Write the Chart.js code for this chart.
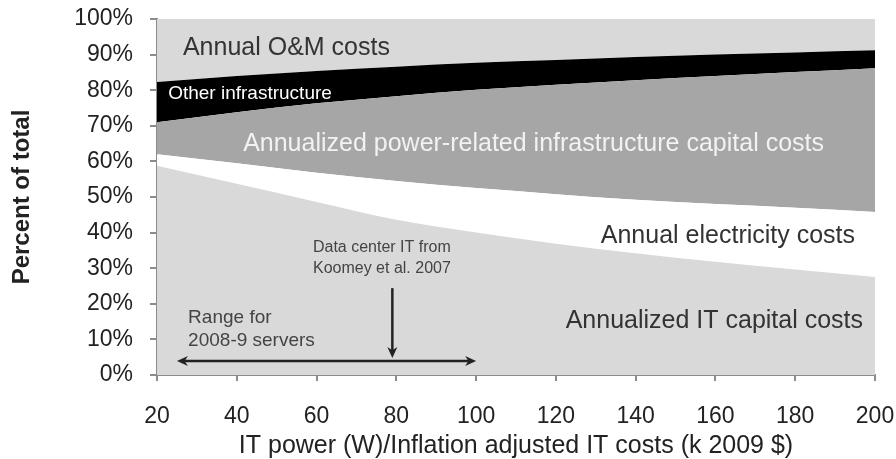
<!DOCTYPE html>
<html>
<head>
<meta charset="utf-8">
<script src="https://cdn.jsdelivr.net/npm/chart.js@4"></script>
<style>
  html, body { margin: 0; padding: 0; background: #fff; }
  #wrap { width: 896px; height: 459px; }
</style>
</head>
<body>
<div id="wrap"><canvas id="myChart" width="896" height="459"></canvas></div>
<script>
// x values (IT power W / inflation adjusted IT costs, k 2009 $)
const xValues = [20, 40, 60, 80, 100, 120, 140, 160, 180, 200];

// upper edge of each band, cumulative percent of total
const itCapitalTop   = [58.8, 53.7, 48.6, 43.6, 40.0, 36.9, 34.2, 31.8, 29.6, 27.5];
const electricityTop = [62.0, 59.5, 56.8, 54.5, 52.5, 50.8, 49.2, 48.0, 47.0, 45.8];
const powerInfraTop  = [71.0, 73.8, 76.3, 78.3, 80.1, 81.5, 82.8, 84.0, 85.1, 86.2];
const otherInfraTop  = [82.3, 84.0, 85.4, 86.6, 87.7, 88.5, 89.3, 90.0, 90.6, 91.2];
const omTop          = [100, 100, 100, 100, 100, 100, 100, 100, 100, 100];

const yTicks = [0, 10, 20, 30, 40, 50, 60, 70, 80, 90, 100];
const xTicks = [20, 40, 60, 80, 100, 120, 140, 160, 180, 200];

// markers in the picture
const serverRange = [25, 100];   // 2008-9 servers
const koomeyPoint = 79;          // Koomey et al. 2007

function toPoints(arr) {
    return arr.map((v, i) => ({ x: xValues[i], y: v }));
}

function band(label, arr, color, fill) {
    return {
        label: label,
        data: toPoints(arr),
        backgroundColor: color,
        borderWidth: 0,
        pointRadius: 0,
        fill: fill,
        cubicInterpolationMode: "monotone"
    };
}

const FONT = "'Liberation Sans', Arial, sans-serif";

function arrowHead(ctx, x, y, dx, dy) {
    // tip at (x,y), pointing in direction (dx,dy)
    const len = 11, half = 5;
    const px = -dy, py = dx;
    ctx.beginPath();
    ctx.moveTo(x, y);
    ctx.lineTo(x - dx * len + px * half, y - dy * len + py * half);
    ctx.lineTo(x - dx * len * 0.7, y - dy * len * 0.7);
    ctx.lineTo(x - dx * len - px * half, y - dy * len - py * half);
    ctx.closePath();
    ctx.fill();
}

const notesPlugin = {
    id: "notes",
    afterDatasetsDraw(chart) {
        const ctx = chart.ctx;
        const xs = chart.scales.x, ys = chart.scales.y;
        const X = v => xs.getPixelForValue(v);
        const Y = v => ys.getPixelForValue(v);

        ctx.save();
        ctx.textBaseline = "alphabetic";

        ctx.fillStyle = "#333";
        ctx.font = "25px " + FONT;
        ctx.textAlign = "left";
        ctx.fillText("Annual O&M costs", X(26.5), Y(89.9));

        ctx.fillStyle = "#fff";
        ctx.font = "19px " + FONT;
        ctx.fillText("Other infrastructure", X(22.8), Y(77.5));

        ctx.fillStyle = "#f2f2f2";
        ctx.font = "25px " + FONT;
        ctx.textAlign = "center";
        ctx.fillText("Annualized power-related infrastructure capital costs", X(114.4), Y(62.9));

        ctx.fillStyle = "#333";
        ctx.textAlign = "right";
        ctx.fillText("Annual electricity costs", X(195), Y(37.1));
        ctx.fillText("Annualized IT capital costs", X(197), Y(13.2));

        ctx.fillStyle = "#444";
        ctx.textAlign = "left";
        ctx.font = "16px " + FONT;
        ctx.fillText("Data center IT from", X(59.1), Y(34.6));
        ctx.fillText("Koomey et al. 2007", X(59.1), Y(28.7));

        ctx.font = "19px " + FONT;
        ctx.fillText("Range for", X(27.8), Y(14.6));
        ctx.fillText("2008-9 servers", X(27.8), Y(8.1));

        // arrows
        ctx.strokeStyle = "#222";
        ctx.fillStyle = "#222";
        ctx.lineWidth = 2.5;
        const ay = Y(3.9);
        const x1 = X(serverRange[0]), x2 = X(serverRange[1]);
        ctx.beginPath();
        ctx.moveTo(x1 + 6, ay);
        ctx.lineTo(x2 - 6, ay);
        ctx.stroke();
        arrowHead(ctx, x1, ay, -1, 0);
        arrowHead(ctx, x2, ay, 1, 0);

        const kx = X(koomeyPoint);
        const ky1 = Y(24.4), ky2 = Y(4.8);
        ctx.beginPath();
        ctx.moveTo(kx, ky1);
        ctx.lineTo(kx, ky2 - 6);
        ctx.stroke();
        arrowHead(ctx, kx, ky2, 0, 1);

        ctx.restore();
    }
};

new Chart(document.getElementById("myChart"), {
    type: "line",
    data: {
        datasets: [
            band("Annualized IT capital costs", itCapitalTop, "#d9d9d9", "origin"),
            band("Annual electricity costs", electricityTop, "#ffffff", "-1"),
            band("Annualized power-related infrastructure capital costs", powerInfraTop, "#a6a6a6", "-1"),
            band("Other infrastructure", otherInfraTop, "#000000", "-1"),
            band("Annual O&M costs", omTop, "#d9d9d9", "-1")
        ]
    },
    options: {
        responsive: false,
        animation: false,
        layout: { padding: { top: 19, right: 21, left: 0, bottom: 0 } },
        plugins: {
            legend: { display: false },
            tooltip: { enabled: false }
        },
        scales: {
            x: {
                type: "linear",
                min: 20,
                max: 200,
                afterFit: s => { s.height = 84; s.paddingLeft = 0; s.paddingRight = 15; },
                afterBuildTicks: s => { s.ticks = xTicks.map(v => ({ value: v })); },
                ticks: {
                    color: "#222",
                    font: { family: FONT, size: 23 },
                    padding: 22,
                    maxRotation: 0
                },
                grid: { drawOnChartArea: false, drawTicks: true, tickLength: 6, color: "#8c8c8c", lineWidth: 2 },
                border: { color: "#8c8c8c", width: 2 },
                title: {
                    display: true,
                    text: "IT power (W)/Inflation adjusted IT costs (k 2009 $)",
                    color: "#222",
                    font: { family: FONT, size: 25, lineHeight: 1 },
                    padding: 0
                }
            },
            y: {
                min: 0,
                max: 100,
                afterFit: s => { s.width = 157; s.paddingTop = 0; s.paddingBottom = 0; },
                afterBuildTicks: s => { s.ticks = yTicks.map(v => ({ value: v })); },
                ticks: {
                    color: "#222",
                    font: { family: FONT, size: 23 },
                    padding: 17,
                    callback: v => v + "%"
                },
                grid: { drawOnChartArea: false, drawTicks: true, tickLength: 7, color: "#8c8c8c", lineWidth: 2 },
                border: { color: "#8c8c8c", width: 2 },
                title: {
                    display: true,
                    text: "Percent of total",
                    color: "#222",
                    font: { family: FONT, size: 24, weight: "bold", lineHeight: 1 },
                    padding: { top: 10, bottom: 0 }
                }
            }
        }
    },
    plugins: [notesPlugin]
});
</script>
</body>
</html>
